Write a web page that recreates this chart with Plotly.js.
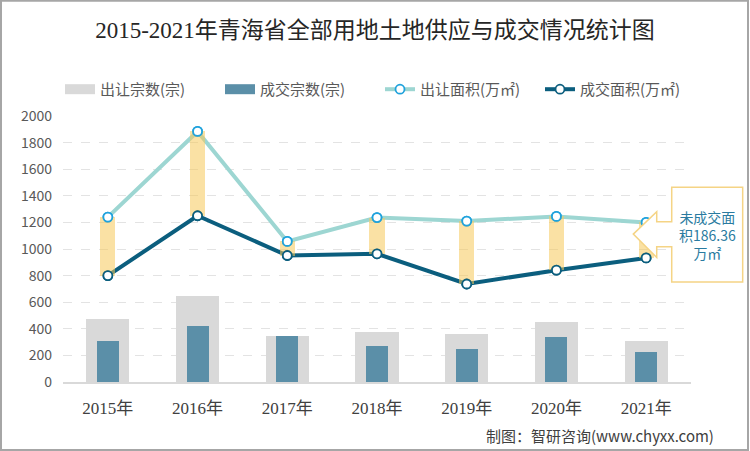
<!DOCTYPE html>
<html>
<head>
<meta charset="utf-8">
<script src="https://cdn.plot.ly/plotly-3.0.1.min.js"></script>
<style>html,body{margin:0;padding:0;background:#fff;}#chart{width:750px;height:451px;}</style>
</head>
<body>
<div id="chart"></div>
<script>
// ---- data ----
var years = ['2015年', '2016年', '2017年', '2018年', '2019年', '2020年', '2021年'];
var supplyCount = [472, 648, 344, 374, 361, 452, 309];   // 出让宗数(宗)
var dealCount = [309, 422, 344, 269, 251, 339, 226];     // 成交宗数(宗)
var supplyArea = [1240, 1884, 1057, 1236, 1210, 1245, 1200]; // 出让面积(万㎡)
var dealArea = [800, 1250, 951, 964, 737, 841, 933];     // 成交面积(万㎡)
var yTicks = [0, 200, 400, 600, 800, 1000, 1200, 1400, 1600, 1800, 2000];
var calloutText = '未成交面<br>积186.36<br>万㎡';
var sourceText = '制图：智研咨询(www.chyxx.com)';
var titleText = '2015-2021年青海省全部用地土地供应与成交情况统计图';

// ---- layout helpers (pixel -> paper) ----
var L = 63, R = 691, T = 116, B = 381.7, W = 750, H = 451;
function px(x) { return (x - L) / (R - L); }
function py(y) { return (B - y) / (B - T); }

var gap = supplyArea.map(function (v, i) { return v - dealArea[i]; });

var sans = 'Noto Sans CJK SC, Noto Sans, sans-serif';
var serif = 'Liberation Serif, Noto Sans CJK SC, serif';

var traces = [
  { type: 'bar', name: '出让宗数(宗)', x: years, y: supplyCount, width: 0.48, showlegend: false,
    marker: { color: '#D9D9D9' }, hoverinfo: 'skip' },
  { type: 'bar', name: '成交宗数(宗)', x: years, y: dealCount, width: 0.245, showlegend: false,
    marker: { color: '#5B8FA8' }, hoverinfo: 'skip' },
  // legend-only stand-ins for the bar series (wide rectangular swatches)
  { type: 'scatter', mode: 'lines', name: '出让宗数(宗)', x: [years[0]], y: [null],
    line: { color: '#D9D9D9', width: 11 }, hoverinfo: 'skip' },
  { type: 'scatter', mode: 'lines', name: '成交宗数(宗)', x: [years[0]], y: [null],
    line: { color: '#5B8FA8', width: 11 }, hoverinfo: 'skip' },
  { type: 'scatter', mode: 'lines+markers', name: '出让面积(万㎡)', x: years, y: supplyArea,
    line: { color: '#9DD6D2', width: 4 },
    marker: { size: 9, color: '#FFFFFF', line: { color: '#1FA2DC', width: 1.8 } }, hoverinfo: 'skip' },
  { type: 'scatter', mode: 'lines+markers', name: '成交面积(万㎡)', x: years, y: dealArea,
    line: { color: '#0B5E7E', width: 4 },
    marker: { size: 9, color: '#FFFFFF', line: { color: '#0B5E7E', width: 1.8 } }, hoverinfo: 'skip' },
  { type: 'bar', name: 'gap', x: years, y: gap, base: dealArea, width: 0.17, yaxis: 'y2',
    marker: { color: 'rgba(245,200,90,0.55)' }, showlegend: false, hoverinfo: 'skip' },
  { type: 'scatter', mode: 'markers', x: years, y: supplyArea, yaxis: 'y3', showlegend: false,
    marker: { size: 9, color: '#FFFFFF', line: { color: '#1FA2DC', width: 1.8 } }, hoverinfo: 'skip' },
  { type: 'scatter', mode: 'markers', x: years, y: dealArea, yaxis: 'y3', showlegend: false,
    marker: { size: 9, color: '#FFFFFF', line: { color: '#0B5E7E', width: 1.8 } }, hoverinfo: 'skip' }
];

var calloutPath = [
  [671.7, 187.3], [742.7, 187.3], [742.7, 281.7], [671.7, 281.7], [671.7, 246.7],
  [656.7, 246.7], [656.7, 257.3], [633.3, 234], [656.7, 211.7], [656.7, 221.7], [671.7, 221.7]
].map(function (p, i) { return (i === 0 ? 'M' : 'L') + px(p[0]).toFixed(4) + ',' + py(p[1]).toFixed(4); }).join(' ') + ' Z';

var layout = {
  width: W, height: H,
  margin: { l: L, r: W - R, t: T, b: H - B },
  paper_bgcolor: '#FFFFFF', plot_bgcolor: '#FFFFFF',
  barmode: 'overlay',
  bargap: 0,
  showlegend: true,
  title: { text: titleText, x: 0.5, xanchor: 'center', y: 1 - 30 / H, yanchor: 'middle',
    yref: 'container', font: { family: serif, size: 23, color: '#262626' } },
  legend: { orientation: 'h', x: px(60), xanchor: 'left', y: py(73), yanchor: 'top',
    font: { family: sans, size: 15, color: '#595959' }, traceorder: 'normal',
    entrywidth: 115, entrywidthmode: 'pixels', itemwidth: 30, bgcolor: 'rgba(0,0,0,0)' },
  xaxis: { type: 'category', showgrid: false, showline: true, linecolor: '#D9D9D9', linewidth: 2,
    ticks: '', tickfont: { family: serif, size: 17, color: '#404040' }, ticklabelstandoff: 10,
    zeroline: false, fixedrange: true },
  yaxis: { range: [0, 2000], tickvals: yTicks, showgrid: true, gridcolor: '#E3E3E3', griddash: 'dash',
    gridwidth: 1, zeroline: false, showline: false, ticks: '',
    tickfont: { family: sans, size: 14, color: '#595959' }, ticklabelstandoff: 10, fixedrange: true },
  yaxis2: { range: [0, 2000], overlaying: 'y', visible: false, fixedrange: true },
  yaxis3: { range: [0, 2000], overlaying: 'y', visible: false, fixedrange: true },
  shapes: [
    { type: 'path', xref: 'paper', yref: 'paper', path: calloutPath, layer: 'above',
      fillcolor: '#FFFFFF', line: { color: '#F5D485', width: 1.5 } },
    { type: 'rect', xref: 'paper', yref: 'paper', x0: px(1), x1: px(748), y0: py(449.5), y1: py(1),
      layer: 'above', line: { color: '#A6A6A6', width: 2 }, fillcolor: 'rgba(0,0,0,0)' }
  ],
  annotations: [
    { xref: 'paper', yref: 'paper', x: px(707.5), y: py(234.5), xanchor: 'center', yanchor: 'middle',
      text: calloutText, showarrow: false, align: 'center',
      font: { family: sans, size: 14, color: '#2A7BA0' } },
    { xref: 'paper', yref: 'paper', x: px(716), y: py(435), xanchor: 'right', yanchor: 'middle',
      text: sourceText, showarrow: false, font: { family: sans, size: 15, color: '#404040' } }
  ]
};

Plotly.newPlot('chart', traces, layout, { staticPlot: true, displayModeBar: false });
</script>
</body>
</html>
